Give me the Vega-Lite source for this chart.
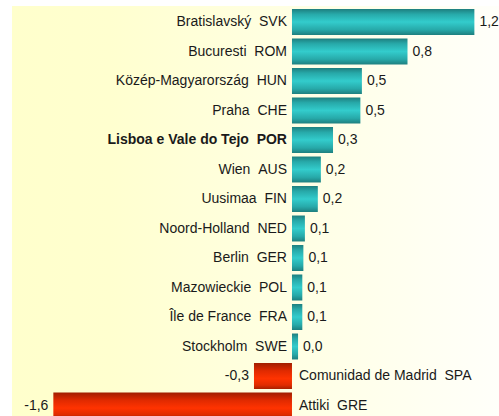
{
  "$schema": "https://vega.github.io/schema/vega-lite/v6.json",
  "autosize": {"type": "none"},
  "width": 487,
  "height": 410,
  "padding": {"left": 12, "top": 6, "right": 0, "bottom": 0},
  "background": "white",
  "config": {
    "view": {
      "stroke": null,
      "fill": {"gradient": "linear", "x1": 0, "y1": 0, "x2": 1, "y2": 0,
        "stops": [{"offset": 0, "color": "#FFFFCC"}, {"offset": 0.2, "color": "#FFFFCF"}, {"offset": 1, "color": "#FFFFFA"}]}
    },
    "text": {"font": "Liberation Sans", "fontSize": 14, "color": "#1a1a1a"}
  },
  "data": {"values": [
    {"region": "Bratislavský\u00a0\u00a0SVK", "value": 1.20, "label": "1,2"},
    {"region": "Bucuresti\u00a0\u00a0ROM", "value": 0.76, "label": "0,8"},
    {"region": "Közép-Magyarország\u00a0\u00a0HUN", "value": 0.46, "label": "0,5"},
    {"region": "Praha\u00a0\u00a0CHE", "value": 0.45, "label": "0,5"},
    {"region": "Lisboa e Vale do Tejo\u00a0\u00a0POR", "value": 0.27, "label": "0,3"},
    {"region": "Wien\u00a0\u00a0AUS", "value": 0.19, "label": "0,2"},
    {"region": "Uusimaa\u00a0\u00a0FIN", "value": 0.17, "label": "0,2"},
    {"region": "Noord-Holland\u00a0\u00a0NED", "value": 0.085, "label": "0,1"},
    {"region": "Berlin\u00a0\u00a0GER", "value": 0.075, "label": "0,1"},
    {"region": "Mazowieckie\u00a0\u00a0POL", "value": 0.068, "label": "0,1"},
    {"region": "Île de France\u00a0\u00a0FRA", "value": 0.068, "label": "0,1"},
    {"region": "Stockholm\u00a0\u00a0SWE", "value": 0.04, "label": "0,0"},
    {"region": "Comunidad de Madrid\u00a0\u00a0SPA", "value": -0.25, "label": "-0,3"},
    {"region": "Attiki\u00a0\u00a0GRE", "value": -1.57, "label": "-1,6"}
  ]},
  "encoding": {
    "y": {"field": "region", "type": "nominal", "sort": null, "axis": null,
      "scale": {"range": [1.25, 414.25], "paddingInner": 0.12, "paddingOuter": 0.06}}
  },
  "layer": [
    {
      "transform": [{"filter": "datum.value >= 0"}],
      "mark": {"type": "bar", "clip": true,
        "fill": {"gradient": "linear", "x1": 0, "y1": 0, "x2": 0, "y2": 1,
          "stops": [{"offset": 0, "color": "#1E7F7F"}, {"offset": 0.2, "color": "#27A9A9"}, {"offset": 0.5, "color": "#33CCCC"}, {"offset": 0.8, "color": "#27A9A9"}, {"offset": 1, "color": "#1E7F7F"}]}},
      "encoding": {
        "x": {"field": "value", "type": "quantitative", "axis": null,
          "scale": {"domain": [-1.842, 1.362], "nice": false, "zero": false}},
        "x2": {"datum": 0}
      }
    },
    {
      "transform": [{"filter": "datum.value < 0"}],
      "mark": {"type": "bar", "clip": true,
        "fill": {"gradient": "linear", "x1": 0, "y1": 0, "x2": 0, "y2": 1,
          "stops": [{"offset": 0, "color": "#A01E00"}, {"offset": 0.3, "color": "#E02A00"}, {"offset": 0.6, "color": "#FF3300"}, {"offset": 0.85, "color": "#E02C00"}, {"offset": 1, "color": "#A82000"}]}},
      "encoding": {
        "x": {"field": "value", "type": "quantitative"},
        "x2": {"datum": 0}
      }
    },
    {
      "transform": [{"filter": "datum.value >= 0 && indexof(datum.region, 'POR') < 0"}],
      "mark": {"type": "text", "align": "right", "dx": -5},
      "encoding": {
        "x": {"datum": 0, "type": "quantitative"},
        "text": {"field": "region"}
      }
    },
    {
      "transform": [{"filter": "indexof(datum.region, 'POR') >= 0"}],
      "mark": {"type": "text", "align": "right", "dx": -5, "fontWeight": "bold"},
      "encoding": {
        "x": {"datum": 0, "type": "quantitative"},
        "text": {"field": "region"}
      }
    },
    {
      "transform": [{"filter": "datum.value < 0"}],
      "mark": {"type": "text", "align": "left", "dx": 7},
      "encoding": {
        "x": {"datum": 0, "type": "quantitative"},
        "text": {"field": "region"}
      }
    },
    {
      "transform": [{"filter": "datum.value >= 0"}],
      "mark": {"type": "text", "align": "left", "dx": 5},
      "encoding": {
        "x": {"field": "value", "type": "quantitative"},
        "text": {"field": "label"}
      }
    },
    {
      "transform": [{"filter": "datum.value < 0"}],
      "mark": {"type": "text", "align": "right", "dx": -5},
      "encoding": {
        "x": {"field": "value", "type": "quantitative"},
        "text": {"field": "label"}
      }
    }
  ]
}
